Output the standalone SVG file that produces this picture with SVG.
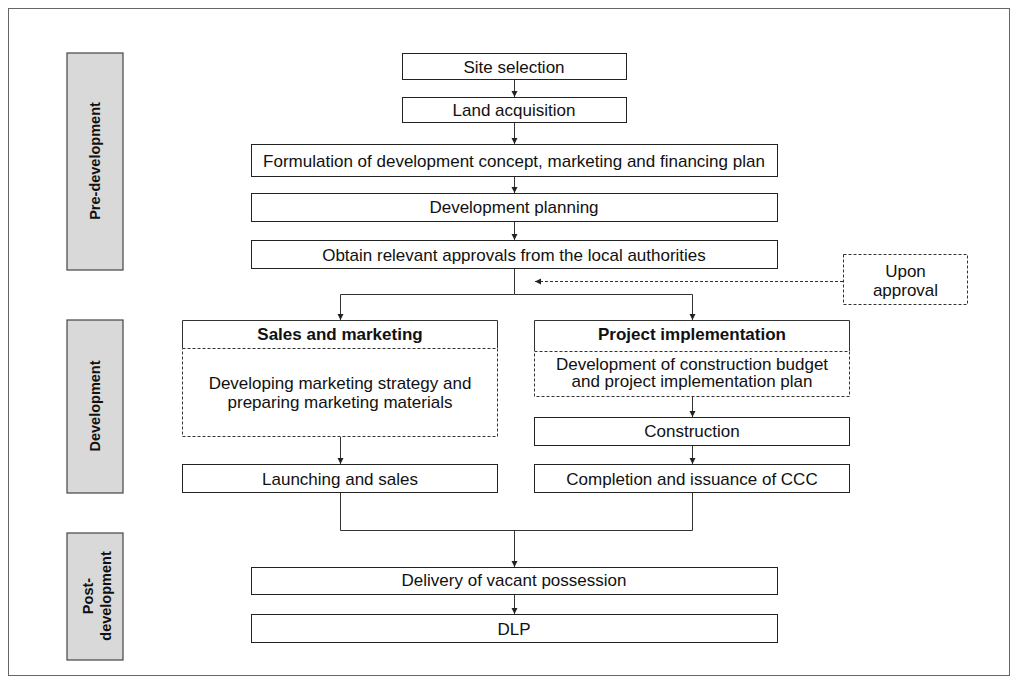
<svg xmlns="http://www.w3.org/2000/svg" width="1017" height="683" viewBox="0 0 1017 683">
<defs>
<marker id="ah" markerWidth="8" markerHeight="8" refX="6" refY="3" orient="auto" markerUnits="userSpaceOnUse">
<path d="M0,0 L6,3 L0,6 Z" fill="#222"/>
</marker>
<style>
.bx{fill:#fff;stroke:#222;stroke-width:1}
.ph{fill:#d9d9d9;stroke:#444;stroke-width:1.2}
.ds{fill:none;stroke:#333;stroke-width:1;stroke-dasharray:3,2}
.t{font-family:"Liberation Sans",Arial,sans-serif;font-size:17px;fill:#111;text-anchor:middle}
.b{font-weight:bold}
.pt{font-family:"Liberation Sans",Arial,sans-serif;font-size:14.5px;font-weight:bold;fill:#111;text-anchor:middle}
.c{fill:none;stroke:#333;stroke-width:1}
</style>
</defs>
<rect x="8.5" y="8.5" width="1001" height="667" fill="#fff" stroke="#666" stroke-width="1"/>

<g id="phase-pre">
<rect class="ph" x="67" y="53" width="56" height="217"/>
<text class="pt" transform="translate(100,161) rotate(-90)">Pre-development</text>
</g>
<g id="phase-dev">
<rect class="ph" x="67" y="320" width="56" height="173"/>
<text class="pt" transform="translate(100,406) rotate(-90)">Development</text>
</g>
<g id="phase-post">
<rect class="ph" x="67" y="533" width="56" height="127"/>
<text class="pt" transform="translate(93,596) rotate(-90)">Post-</text>
<text class="pt" transform="translate(111,596) rotate(-90)">development</text>
</g>

<g id="site-selection">
<rect class="bx" x="402.5" y="53.5" width="224" height="26"/>
<text class="t" x="514" y="73">Site selection</text>
</g>
<g id="land-acquisition">
<rect class="bx" x="402.5" y="97.5" width="224" height="25"/>
<text class="t" x="514" y="116">Land acquisition</text>
</g>
<g id="formulation">
<rect class="bx" x="251.5" y="144.5" width="526" height="32"/>
<text class="t" x="514" y="167">Formulation of development concept, marketing and financing plan</text>
</g>
<g id="development-planning">
<rect class="bx" x="251.5" y="193.5" width="526" height="28"/>
<text class="t" x="514" y="213">Development planning</text>
</g>
<g id="obtain-approvals">
<rect class="bx" x="251.5" y="240.5" width="526" height="28"/>
<text class="t" x="514" y="261">Obtain relevant approvals from the local authorities</text>
</g>
<g id="upon-approval">
<rect class="ds" x="843.5" y="254.5" width="124" height="50"/>
<text class="t" x="905.5" y="277">Upon</text>
<text class="t" x="905.5" y="296">approval</text>
</g>

<g id="sales-marketing">
<path class="c" d="M182.5,348 V320.5 H497.5 V348" stroke="#222"/>
<rect class="ds" x="182.5" y="348.5" width="315" height="88"/>
<text class="t b" x="340" y="340">Sales and marketing</text>
<text class="t" x="340" y="389">Developing marketing strategy and</text>
<text class="t" x="340" y="408">preparing marketing materials</text>
</g>
<g id="launching-sales">
<rect class="bx" x="182.5" y="464.5" width="315" height="28"/>
<text class="t" x="340" y="485">Launching and sales</text>
</g>

<g id="project-implementation">
<path class="c" d="M534.5,351 V320.5 H849.5 V351" stroke="#222"/>
<rect class="ds" x="534.5" y="351.5" width="315" height="45"/>
<text class="t b" x="692" y="340">Project implementation</text>
<text class="t" x="692" y="370">Development of construction budget</text>
<text class="t" x="692" y="387">and project implementation plan</text>
</g>
<g id="construction">
<rect class="bx" x="534.5" y="417.5" width="315" height="28"/>
<text class="t" x="692" y="437">Construction</text>
</g>
<g id="completion-ccc">
<rect class="bx" x="534.5" y="464.5" width="315" height="28"/>
<text class="t" x="692" y="485">Completion and issuance of CCC</text>
</g>

<g id="delivery">
<rect class="bx" x="251.5" y="567.5" width="526" height="27"/>
<text class="t" x="514" y="586">Delivery of vacant possession</text>
</g>
<g id="dlp">
<rect class="bx" x="251.5" y="614.5" width="526" height="28"/>
<text class="t" x="514" y="635">DLP</text>
</g>

<g id="connectors">
<path class="c" d="M514.5,80 V97" marker-end="url(#ah)"/>
<path class="c" d="M514.5,123 V144" marker-end="url(#ah)"/>
<path class="c" d="M514.5,177 V193" marker-end="url(#ah)"/>
<path class="c" d="M514.5,222 V240" marker-end="url(#ah)"/>
<path class="c" d="M514.5,269 V294.5 H340.5 V320" marker-end="url(#ah)"/>
<path class="c" d="M514.5,294.5 H692.5 V320" marker-end="url(#ah)"/>
<path class="ds" d="M843,281.5 H535" marker-end="url(#ah)"/>
<path class="c" d="M340.5,437 V464" marker-end="url(#ah)"/>
<path class="c" d="M692.5,397 V417" marker-end="url(#ah)"/>
<path class="c" d="M692.5,446 V464" marker-end="url(#ah)"/>
<path class="c" d="M340.5,493 V530.5 H692.5 V493"/>
<path class="c" d="M514.5,530.5 V567" marker-end="url(#ah)"/>
<path class="c" d="M514.5,595 V614" marker-end="url(#ah)"/>
</g>
</svg>
